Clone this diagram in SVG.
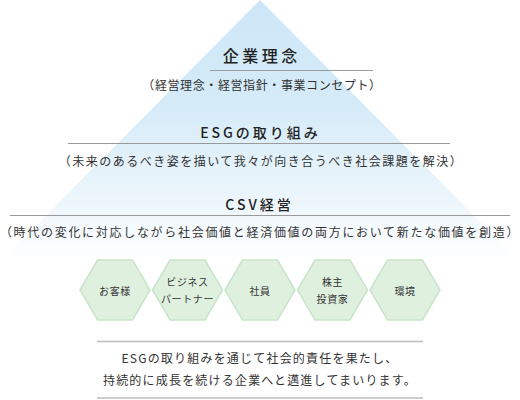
<svg xmlns="http://www.w3.org/2000/svg" width="520" height="400" viewBox="0 0 520 400">
<defs>
<linearGradient id="tri" x1="0" y1="0" x2="0" y2="1">
<stop offset="0" stop-color="#cde6f7"/>
<stop offset="0.4" stop-color="#d5ebf8"/>
<stop offset="0.75" stop-color="#ebf5fb"/>
<stop offset="1" stop-color="#ffffff"/>
</linearGradient>
<polygon id="hex" points="-35,0 -17.5,-30 17.5,-30 35,0 17.5,30 -17.5,30"/>
</defs>
<style>
text{font-family:"Noto Sans CJK JP","Noto Sans",sans-serif;fill:#333;text-anchor:middle}
.t{font-size:14px;font-weight:500;letter-spacing:3px;fill:#222}
.t1{font-size:16px;letter-spacing:3.5px}
.s{font-size:12px;letter-spacing:1.5px}
.b{font-size:12px;letter-spacing:1.2px}
.h{font-size:10px;letter-spacing:0.6px}
.rule{stroke:#9a9a9a;stroke-width:1}
.brule{stroke:#bdbdbd;stroke-width:1.5}
.hx use{fill:#dff0df;stroke:#c9e5c9;stroke-width:1.5}
</style>
<rect width="520" height="400" fill="#ffffff"/>
<polygon points="260,0 0,262 520,262" fill="url(#tri)"/>

<g id="level-philosophy">
<text class="t t1" x="261.7" y="61.5">企業理念</text>
<line class="rule" x1="210" y1="70.5" x2="373" y2="70.5"/>
<text class="s" x="262" y="89.5" style="letter-spacing:0.6px">（経営理念・経営指針・事業コンセプト）</text>
</g>
<g id="level-esg">
<text class="t" x="260.5" y="138">ESGの取り組み</text>
<line class="rule" x1="68" y1="143.5" x2="450" y2="143.5"/>
<text class="s" x="261" y="166">（未来のあるべき姿を描いて我々が向き合うべき社会課題を解決）</text>
</g>
<g id="level-csv">
<text class="t" x="259.5" y="210">CSV経営</text>
<line class="rule" x1="10" y1="215.5" x2="510" y2="215.5"/>
<text class="s" x="260" y="237" style="letter-spacing:1.7px">（時代の変化に対応しながら社会価値と経済価値の両方において新たな価値を創造）</text>
</g>

<g class="hx">
<g id="hex-customers"><use href="#hex" x="115" y="290"/><text class="h" x="115" y="295">お客様</text></g>
<g id="hex-partners"><use href="#hex" x="187.5" y="290"/><text class="h" x="187.5" y="286">ビジネス</text><text class="h" x="187.5" y="303">パートナー</text></g>
<g id="hex-employees"><use href="#hex" x="260" y="290"/><text class="h" x="260" y="295">社員</text></g>
<g id="hex-shareholders"><use href="#hex" x="332.5" y="290"/><text class="h" x="332.5" y="286">株主</text><text class="h" x="332.5" y="303">投資家</text></g>
<g id="hex-environment"><use href="#hex" x="405" y="290"/><text class="h" x="405" y="295">環境</text></g>
</g>

<g id="conclusion">
<line class="brule" x1="97" y1="341.5" x2="423" y2="341.5"/>
<text class="b" x="260" y="362.5">ESGの取り組みを通じて社会的責任を果たし、</text>
<text class="b" x="260" y="384.5">持続的に成長を続ける企業へと邁進してまいります。</text>
<line class="brule" x1="97" y1="398" x2="423" y2="398"/>
</g>
</svg>
